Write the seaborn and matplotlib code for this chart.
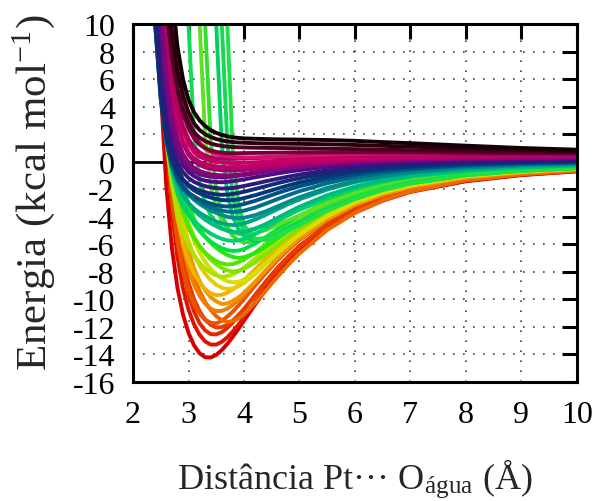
import pandas as pd
import matplotlib
matplotlib.use("Agg")
import matplotlib.pyplot as plt
import seaborn as sns

# estilo: fundo branco, fonte serifada tipo Times
sns.set_style("white")
plt.rcParams["font.family"] = ["Liberation Serif", "DejaVu Serif"]
plt.rcParams["mathtext.fontset"] = "stix"
plt.rcParams["axes.unicode_minus"] = False

# distancias Pt...O (Angstrom) onde cada curva foi lida
distancia = [2.3, 2.4, 2.5, 2.6, 2.7, 2.8, 2.9, 3.0, 3.1, 3.2, 3.3, 3.4, 3.5, 3.6, 3.7,
             3.8, 3.9, 4.0, 4.2, 4.4, 4.6, 4.8, 5.0, 5.5, 6.0, 6.5, 7.0, 8.0, 9.0, 10.0]

# curvas de energia (kcal/mol), agrupadas por cor
vermelhas = [
    [33.9, 16.2, 5.14, -1.80, -6.23, -9.14, -11.09, -12.43, -13.34, -13.91, -14.20, -14.22, -14.03, -13.68, -13.23,
     -12.71, -12.14, -11.55, -10.38, -9.27, -8.25, -7.34, -6.53, -4.87, -3.70, -2.83, -2.19, -1.42, -0.97, -0.70],
    [44.8, 23.3, 10.0, 1.72, -3.52, -6.92, -9.19, -10.74, -11.82, -12.57, -13.05, -13.28, -13.28, -13.08, -12.75,
     -12.32, -11.84, -11.31, -10.21, -9.14, -8.14, -7.25, -6.44, -4.81, -3.63, -2.78, -2.15, -1.38, -0.95, -0.68],
    [59.6, 32.4, 15.8, 5.44, -1.03, -5.17, -7.86, -9.66, -10.89, -11.73, -12.25, -12.52, -12.54, -12.38, -12.07,
     -11.67, -11.22, -10.72, -9.68, -8.67, -7.72, -6.87, -6.11, -4.56, -3.44, -2.64, -2.04, -1.31, -0.90, -0.64],
    [57.2, 31.3, 15.5, 5.66, -0.49, -4.42, -7.01, -8.76, -9.98, -10.85, -11.47, -11.85, -12.04, -12.01, -11.84,
     -11.53, -11.14, -10.70, -9.72, -8.74, -7.80, -6.94, -6.17, -4.60, -3.46, -2.65, -2.04, -1.29, -0.88, -0.63],
]
cores_vermelhas = ["#d40000", "#dc1400", "#e22800", "#e63c00"]

laranjas = [
    [42.7, 22.5, 10.0, 2.23, -2.67, -5.84, -7.94, -9.37, -10.36, -11.04, -11.48, -11.69, -11.74, -11.55, -11.25,
     -10.88, -10.45, -9.97, -9.00, -8.06, -7.18, -6.39, -5.68, -4.24, -3.20, -2.45, -1.89, -1.21, -0.83, -0.60],
    [72.0, 40.9, 21.8, 10.0, 2.68, -1.95, -4.95, -6.95, -8.36, -9.40, -10.18, -10.77, -11.22, -11.50, -11.63,
     -11.58, -11.38, -11.08, -10.27, -9.32, -8.38, -7.48, -6.66, -4.96, -3.71, -2.82, -2.16, -1.35, -0.91, -0.64],
    [55.0, 30.4, 15.2, 5.87, 0.02, -3.71, -6.15, -7.80, -8.94, -9.74, -10.31, -10.67, -10.85, -10.83, -10.67,
     -10.40, -10.05, -9.65, -8.77, -7.88, -7.03, -6.26, -5.57, -4.15, -3.12, -2.39, -1.84, -1.17, -0.79, -0.57],
    [70.5, 40.0, 21.5, 10.0, 2.88, -1.59, -4.49, -6.41, -7.73, -8.67, -9.35, -9.83, -10.14, -10.33, -10.29,
     -10.11, -9.85, -9.52, -8.72, -7.86, -7.04, -6.27, -5.58, -4.16, -3.12, -2.37, -1.83, -1.14, -0.78, -0.55],
]
cores_laranjas = ["#ea5200", "#ee6800", "#f07e00", "#f29400"]

amarelas = [
    [39.3, 21.2, 10.0, 3.07, -1.29, -4.10, -5.96, -7.23, -8.14, -8.79, -9.26, -9.55, -9.69, -9.66, -9.52,
     -9.27, -8.97, -8.60, -7.81, -7.02, -6.26, -5.58, -4.96, -3.69, -2.78, -2.13, -1.64, -1.04, -0.71, -0.51],
    [50.1, 28.1, 14.65, 6.35, 1.15, -2.14, -4.29, -5.75, -6.78, -7.56, -8.14, -8.59, -8.93, -9.15, -9.25,
     -9.20, -9.05, -8.81, -8.17, -7.41, -6.66, -5.94, -5.29, -3.94, -2.95, -2.24, -1.72, -1.07, -0.73, -0.51],
    [64.2, 36.9, 20.2, 10.0, 3.67, -0.33, -2.88, -4.58, -5.75, -6.61, -7.27, -7.77, -8.17, -8.48, -8.68,
     -8.76, -8.72, -8.57, -8.05, -7.37, -6.65, -5.96, -5.31, -3.96, -2.96, -2.24, -1.72, -1.06, -0.71, -0.50],
]
cores_amarelas = ["#f0b400", "#e8cc00", "#d4e000"]

verdes = [
    [27.4, 14.47, 6.48, 1.50, -1.65, -3.70, -5.09, -6.07, -6.79, -7.33, -7.74, -8.06, -8.26, -8.35, -8.31,
     -8.17, -7.96, -7.69, -7.04, -6.35, -5.69, -5.07, -4.51, -3.36, -2.52, -1.92, -1.48, -0.92, -0.63, -0.45],
    [47.2, 26.8, 14.31, 6.62, 1.83, -1.21, -3.18, -4.50, -5.44, -6.13, -6.67, -7.11, -7.45, -7.72, -7.89,
     -7.97, -7.92, -7.79, -7.32, -6.70, -6.05, -5.42, -4.82, -3.60, -2.69, -2.04, -1.56, -0.97, -0.65, -0.46],
    [35.4, 19.7, 10.0, 4.02, 0.26, -2.13, -3.71, -4.79, -5.57, -6.15, -6.59, -6.95, -7.21, -7.39, -7.46,
     -7.43, -7.30, -7.11, -6.59, -5.98, -5.37, -4.79, -4.27, -3.18, -2.38, -1.81, -1.39, -0.86, -0.59, -0.41],
    [59.3, 34.5, 19.3, 10.0, 4.26, 0.67, -1.62, -3.12, -4.14, -4.88, -5.45, -5.89, -6.25, -6.55, -6.77,
     -6.92, -6.98, -6.94, -6.64, -6.15, -5.58, -5.01, -4.47, -3.34, -2.49, -1.88, -1.44, -0.88, -0.59, -0.41],
    [33.9, 19.1, 10.0, 4.39, 0.89, -1.34, -2.80, -3.79, -4.50, -5.04, -5.46, -5.80, -6.07, -6.28, -6.42,
     -6.48, -6.45, -6.34, -5.95, -5.45, -4.91, -4.40, -3.92, -2.93, -2.18, -1.66, -1.27, -0.79, -0.53, -0.37],
]
cores_verdes = ["#a8e400", "#7ce600", "#50e600", "#28e610", "#00e040"]

# curvas verdes com parede repulsiva muito deslocada
verdes_ingremes = [
    [99, 99, 99, 99, 99, 99, 30, 10, 2.0, -1.5, -3.0, -3.9, -4.4, -4.8, -5.0,
     -5.1, -5.1, -5.05, -4.85, -4.55, -4.2, -3.85, -3.5, -2.7, -2.05, -1.55, -1.2, -0.75, -0.5, -0.35],
    [99, 99, 99, 99, 99, 99, 99, 99, 30, 10, 1.8, -1.8, -3.4, -4.3, -4.8,
     -5.1, -5.25, -5.3, -5.2, -4.95, -4.6, -4.25, -3.9, -3.0, -2.3, -1.75, -1.35, -0.85, -0.57, -0.4],
    [99, 99, 99, 99, 99, 99, 99, 99, 99, 30, 10, 1.5, -2.0, -3.8, -4.8,
     -5.4, -5.7, -5.85, -5.8, -5.5, -5.1, -4.7, -4.3, -3.3, -2.5, -1.9, -1.45, -0.9, -0.6, -0.42],
    [99, 99, 99, 99, 99, 99, 99, 99, 99, 99, 99, 30, 10, 1.2, -2.3,
     -4.0, -4.9, -5.4, -5.8, -5.6, -5.25, -4.85, -4.45, -3.45, -2.65, -2.02, -1.55, -0.96, -0.64, -0.45],
    [99, 99, 99, 99, 99, 99, 99, 99, 99, 99, 99, 99, 30, 10, 1.4,
     -2.6, -4.2, -5.0, -5.6, -5.55, -5.25, -4.9, -4.5, -3.5, -2.68, -2.04, -1.57, -0.97, -0.65, -0.46],
    [99, 99, 99, 99, 99, 99, 99, 99, 99, 99, 99, 99, 99, 30, 10,
     0.5, -3.0, -4.6, -5.6, -5.7, -5.4, -5.0, -4.6, -3.55, -2.7, -2.05, -1.58, -0.98, -0.66, -0.46],
]
cores_ingremes = ["#10dc50", "#60e020", "#30e030", "#00d060", "#18d858", "#20e048"]

turquesas = [
    [29.5, 14.71, 6.50, 1.90, -0.72, -2.27, -3.22, -3.84, -4.30, -4.66, -4.96, -5.22, -5.43, -5.60, -5.71,
     -5.75, -5.71, -5.60, -5.26, -4.81, -4.33, -3.88, -3.45, -2.56, -1.90, -1.43, -1.08, -0.65, -0.42, -0.28],
    [39.9, 20.6, 10.0, 4.08, 0.75, -1.16, -2.31, -3.04, -3.53, -3.90, -4.21, -4.47, -4.68, -4.87, -5.01,
     -5.11, -5.15, -5.11, -4.88, -4.52, -4.09, -3.67, -3.27, -2.43, -1.80, -1.35, -1.02, -0.61, -0.39, -0.25],
    [28.5, 14.46, 6.69, 2.35, -0.11, -1.55, -2.43, -2.99, -3.40, -3.70, -3.95, -4.16, -4.34, -4.47, -4.56,
     -4.60, -4.57, -4.48, -4.20, -3.84, -3.45, -3.08, -2.73, -2.02, -1.48, -1.10, -0.82, -0.47, -0.28, -0.17],
    [38.5, 20.2, 10.0, 4.38, 1.23, -0.57, -1.64, -2.30, -2.75, -3.07, -3.32, -3.54, -3.71, -3.87, -4.00,
     -4.07, -4.10, -4.07, -3.88, -3.59, -3.25, -2.91, -2.58, -1.90, -1.40, -1.03, -0.77, -0.43, -0.25, -0.14],
]
cores_turquesas = ["#00d070", "#00bc7c", "#00a684", "#008c88"]

azuis = [
    [19.9, 10.0, 4.52, 1.44, -0.31, -1.34, -1.98, -2.40, -2.70, -2.93, -3.14, -3.30, -3.44, -3.55, -3.62,
     -3.65, -3.62, -3.55, -3.33, -3.03, -2.72, -2.42, -2.14, -1.56, -1.13, -0.82, -0.59, -0.31, -0.16, -0.07],
    [19.8, 10.0, 4.56, 1.53, -0.20, -1.21, -1.83, -2.24, -2.52, -2.75, -2.91, -3.04, -3.16, -3.22, -3.25,
     -3.23, -3.17, -3.07, -2.84, -2.56, -2.28, -2.02, -1.78, -1.29, -0.93, -0.67, -0.48, -0.24, -0.12, -0.04],
    [27.0, 14.10, 6.95, 2.98, 0.75, -0.53, -1.29, -1.76, -2.08, -2.30, -2.48, -2.60, -2.71, -2.78, -2.80,
     -2.78, -2.73, -2.64, -2.43, -2.19, -1.95, -1.72, -1.51, -1.07, -0.75, -0.52, -0.36, -0.15, -0.03, 0.03],
    [19.4, 10.0, 4.78, 1.86, 0.22, -0.74, -1.30, -1.67, -1.91, -2.09, -2.21, -2.31, -2.37, -2.40, -2.38,
     -2.34, -2.26, -2.18, -1.98, -1.77, -1.56, -1.37, -1.20, -0.84, -0.58, -0.39, -0.26, -0.09, 0.00, 0.06],
]
cores_azuis = ["#006e8a", "#005084", "#003a7c", "#142a74"]

roxas = [
    [26.4, 13.93, 7.08, 3.28, 1.15, -0.05, -0.75, -1.18, -1.46, -1.64, -1.77, -1.86, -1.91, -1.95, -1.93,
     -1.90, -1.84, -1.76, -1.59, -1.41, -1.24, -1.08, -0.93, -0.63, -0.41, -0.25, -0.14, 0.01, 0.08, 0.13],
    [35.5, 19.05, 10.0, 5.00, 2.23, 0.68, -0.22, -0.74, -1.05, -1.25, -1.37, -1.44, -1.47, -1.49, -1.46,
     -1.41, -1.35, -1.28, -1.13, -0.99, -0.85, -0.72, -0.61, -0.38, -0.21, -0.09, 0.00, 0.11, 0.17, 0.21],
    [34.9, 18.83, 10.0, 5.14, 2.43, 0.91, 0.06, -0.44, -0.73, -0.91, -1.02, -1.09, -1.12, -1.14, -1.11,
     -1.07, -1.02, -0.97, -0.85, -0.72, -0.61, -0.50, -0.41, -0.22, -0.08, 0.02, 0.10, 0.19, 0.24, 0.27],
]
cores_roxas = ["#2c1a7c", "#4a0e84", "#680a82"]

magentas = [
    [46.8, 25.4, 13.71, 7.24, 3.68, 1.69, 0.57, -0.06, -0.44, -0.67, -0.81, -0.91, -0.96, -0.98, -0.99,
     -0.97, -0.93, -0.88, -0.77, -0.66, -0.55, -0.44, -0.35, -0.16, -0.02, 0.08, 0.15, 0.25, 0.29, 0.33],
    [61.9, 33.8, 18.47, 10.0, 5.34, 2.75, 1.31, 0.50, 0.04, -0.24, -0.41, -0.51, -0.57, -0.62, -0.64,
     -0.64, -0.62, -0.59, -0.52, -0.43, -0.34, -0.25, -0.18, -0.02, 0.10, 0.18, 0.25, 0.32, 0.36, 0.39],
    [61.0, 33.5, 18.33, 10.0, 5.42, 2.90, 1.49, 0.69, 0.25, -0.01, -0.17, -0.27, -0.33, -0.37, -0.40,
     -0.39, -0.38, -0.35, -0.29, -0.22, -0.14, -0.08, -0.01, 0.12, 0.21, 0.28, 0.33, 0.40, 0.43, 0.45],
    [80.5, 44.3, 24.4, 13.45, 7.43, 4.13, 2.29, 1.27, 0.70, 0.37, 0.19, 0.07, 0.00, -0.05, -0.08,
     -0.10, -0.10, -0.08, -0.04, 0.01, 0.07, 0.13, 0.18, 0.28, 0.36, 0.42, 0.46, 0.52, 0.54, 0.56],
    [36, 23, 15, 9.8, 6.4, 4.1, 2.6, 1.65, 1.05, 0.68, 0.45, 0.32, 0.25, 0.22, 0.21,
     0.21, 0.22, 0.23, 0.26, 0.29, 0.32, 0.35, 0.37, 0.42, 0.46, 0.49, 0.51, 0.53, 0.54, 0.55],
    [91.1, 55.4, 33.8, 20.69, 12.72, 7.88, 4.94, 3.15, 2.06, 1.39, 0.97, 0.72, 0.55, 0.46, 0.40,
     0.35, 0.33, 0.32, 0.32, 0.35, 0.38, 0.41, 0.43, 0.50, 0.55, 0.58, 0.61, 0.64, 0.66, 0.67],
]
cores_magentas = ["#86067a", "#a40470", "#bc0068", "#c8006a", "#b4005c", "#d8106c"]

escuras = [
    [40, 26, 17, 11.5, 7.8, 5.2, 3.5, 2.4, 1.7, 1.25, 0.98, 0.82, 0.72, 0.66, 0.63,
     0.62, 0.62, 0.63, 0.64, 0.65, 0.66, 0.67, 0.68, 0.69, 0.69, 0.68, 0.67, 0.64, 0.62, 0.60],
    [38, 25, 16.5, 11.2, 7.7, 5.3, 3.8, 2.8, 2.15, 1.75, 1.5, 1.33, 1.22, 1.15, 1.10,
     1.07, 1.05, 1.04, 1.02, 1.01, 1.00, 0.99, 0.98, 0.95, 0.92, 0.88, 0.84, 0.76, 0.70, 0.65],
    [45, 30, 20, 13.5, 9.5, 6.6, 4.8, 3.6, 2.8, 2.3, 2.0, 1.8, 1.65, 1.55, 1.48,
     1.43, 1.40, 1.38, 1.35, 1.33, 1.32, 1.31, 1.30, 1.27, 1.22, 1.16, 1.10, 0.97, 0.86, 0.78],
    [60, 40, 27, 18, 12.2, 8.4, 6.0, 4.5, 3.6, 3.0, 2.6, 2.3, 2.1, 1.95, 1.85,
     1.78, 1.73, 1.70, 1.67, 1.65, 1.63, 1.62, 1.61, 1.58, 1.52, 1.43, 1.35, 1.17, 1.00, 0.88],
]
cores_escuras = ["#78003a", "#4a0020", "#2a000e", "#140004"]

# ordem de desenho: das mais profundas ate as pretas (ficam por cima)
familias = [
    (vermelhas, cores_vermelhas),
    (laranjas, cores_laranjas),
    (amarelas, cores_amarelas),
    (verdes, cores_verdes),
    (verdes_ingremes, cores_ingremes),
    (turquesas, cores_turquesas),
    (azuis, cores_azuis),
    (roxas, cores_roxas),
    (magentas, cores_magentas),
    (escuras, cores_escuras),
]

linhas = []
paleta = {}
ordem = []
n = 0
for curvas, cores in familias:
    for valores, cor in zip(curvas, cores):
        nome = f"curva{n}"
        paleta[nome] = cor
        ordem.append(nome)
        for x, e in zip(distancia, valores):
            linhas.append({"distancia": x, "energia": e, "curva": nome})
        n += 1
df = pd.DataFrame(linhas)

fig = plt.figure(figsize=(6.02, 5.02), dpi=100)
ax = fig.add_axes([0.221, 0.237, 0.737, 0.713])

ax.axhline(0, color="black", linewidth=2.0, zorder=1)
sns.lineplot(data=df, x="distancia", y="energia", hue="curva", hue_order=ordem,
             palette=paleta, estimator=None, sort=False, legend=False,
             linewidth=2.8, ax=ax, zorder=2)

ax.set_xlim(2, 10)
ax.set_ylim(-16, 10)
ax.set_xticks(range(2, 11))
ax.set_yticks(range(-16, 11, 2))

ax.grid(True, color="black", linestyle=(0, (1, 5)), linewidth=1.2, alpha=0.75)
ax.set_axisbelow(True)

for s in ax.spines.values():
    s.set_linewidth(2.2)
    s.set_color("black")
ax.tick_params(direction="in", length=11, width=2.2, top=True, right=True,
               labelsize=23, pad=13, colors="black")

ax.set_ylabel("Energia (kcal mol$^{\\mathregular{-1}}$)", fontsize=31)
ax.set_xlabel("Distância Pt\u00b7\u00b7\u00b7 O$_{\\mathregular{água}}$ (Å)", fontsize=26)
ax.yaxis.label.set_va("center")
ax.yaxis.set_label_coords(-0.225, 0.531)
ax.xaxis.label.set_va("center")
ax.xaxis.set_label_coords(0.5, -0.27)

fig.savefig("out.png", dpi=100)
